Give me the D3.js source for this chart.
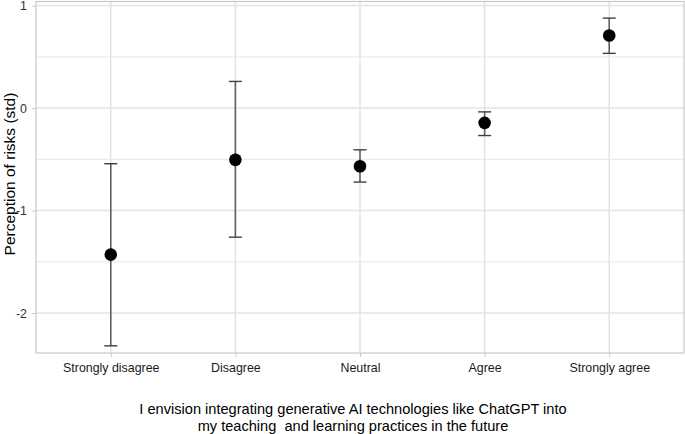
<!DOCTYPE html>
<html><head><meta charset="utf-8">
<script src="https://cdn.jsdelivr.net/npm/d3@7"></script>
<style>body{margin:0;background:#fff}svg{display:block}text{font-family:"Liberation Sans",Arial,sans-serif}</style>
</head><body><svg id="c" width="685" height="434"></svg>
<script>
const categories = ["Strongly disagree","Disagree","Neutral","Agree","Strongly agree"];
const means = [-1.43, -0.505, -0.567, -0.144, 0.708];
const lower = [-2.32, -1.26, -0.722, -0.268, 0.534];
const upper = [-0.543, 0.26, -0.407, -0.037, 0.878];
const yTicks = [-2, -1, 0, 1];
const yMinor = [-1.5, -0.5, 0.5];
const xTitle = ["I envision integrating generative AI technologies like ChatGPT into", "my teaching  and learning practices in the future"];
const yTitle = "Perception of risks (std)";

const svg = d3.select("#c");
const L = 36, R = 684, T = 1.5, B = 353;
const x = d3.scalePoint().domain(categories).range([L, R]).padding(0.6);
const y = d3.scaleLinear().domain([-2.39, 1.04]).range([B, T]);

const g = svg.append("g");
g.selectAll(".gm").data(yMinor).join("line")
  .attr("x1", L).attr("x2", R).attr("y1", d => y(d)).attr("y2", d => y(d))
  .attr("stroke", "#ebebeb").attr("stroke-width", 1.2);
g.selectAll(".gM").data(yTicks).join("line")
  .attr("x1", L).attr("x2", R).attr("y1", d => y(d)).attr("y2", d => y(d))
  .attr("stroke", "#e3e3e3").attr("stroke-width", 1.5);
g.selectAll(".gx").data(categories).join("line")
  .attr("x1", d => x(d)).attr("x2", d => x(d)).attr("y1", T).attr("y2", B)
  .attr("stroke", "#e3e3e3").attr("stroke-width", 1.5);
g.append("rect").attr("x", L).attr("y", T).attr("width", R - L).attr("height", B - T)
  .attr("fill", "none").attr("stroke", "#c8c8c8").attr("stroke-width", 1.2);

const xa = svg.append("g").attr("transform", `translate(0,${B})`)
  .call(d3.axisBottom(x).tickSize(4).tickPadding(6));
xa.select(".domain").remove();
xa.selectAll(".tick line").attr("stroke", "#c8c8c8");
xa.selectAll("text").attr("font-size", 12.4).attr("fill", "#1a1a1a").style("font-family", "Liberation Sans, Arial, sans-serif");

const ya = svg.append("g").attr("transform", `translate(${L},0)`)
  .call(d3.axisLeft(y).tickValues(yTicks).tickFormat(d => String(d)).tickSize(4).tickPadding(5));
ya.select(".domain").remove();
ya.selectAll(".tick line").attr("stroke", "#c8c8c8");
ya.selectAll("text").attr("font-size", 12.4).attr("fill", "#333").style("font-family", "Liberation Sans, Arial, sans-serif");

const eb = svg.append("g");
categories.forEach((c, i) => {
  eb.append("line").attr("x1", x(c)).attr("x2", x(c)).attr("y1", y(lower[i])).attr("y2", y(upper[i]))
    .attr("stroke", "#606060").attr("stroke-width", 1.6);
  [lower[i], upper[i]].forEach(v => {
    eb.append("line").attr("x1", x(c) - 6.5).attr("x2", x(c) + 6.5).attr("y1", y(v)).attr("y2", y(v))
      .attr("stroke", "#404040").attr("stroke-width", 1.4);
  });
});
svg.append("g").selectAll("circle").data(categories).join("circle")
  .attr("cx", d => x(d)).attr("cy", (d, i) => y(means[i])).attr("r", 6.3).attr("fill", "#000");

svg.append("text")
  .attr("transform", `translate(15,174) rotate(-90)`)
  .attr("text-anchor", "middle").attr("font-size", 15.5).attr("fill", "#000").text(yTitle);
svg.append("text").attr("text-anchor", "middle").attr("font-size", 14.6).attr("fill", "#000")
  .style("white-space", "pre")
  .selectAll("tspan").data(xTitle).join("tspan")
  .attr("x", 353).attr("y", (d, i) => 414 + i * 17).text(d => d);
</script></body></html>
